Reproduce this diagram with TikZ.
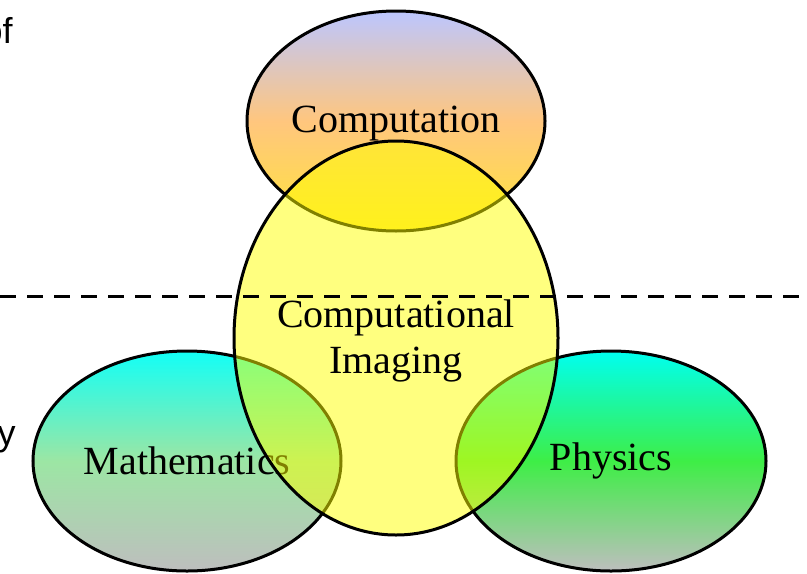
\documentclass[tikz,border=0pt]{standalone}
\usepackage{fontspec}
\setmainfont{Liberation Serif}
\newfontfamily\sidefont{Liberation Sans}
\usetikzlibrary{shapes.geometric}
\definecolor{compblue}{HTML}{BCC6FF}
\definecolor{comporange}{HTML}{FFC67E}
\definecolor{compyellow}{HTML}{FFE43A}
\definecolor{mathcyan}{HTML}{12FFF6}
\definecolor{mathgreen}{HTML}{9CE6A4}
\definecolor{physcyan}{HTML}{00FFF0}
\definecolor{physgreen}{HTML}{3EEE46}
\definecolor{venngrey}{HTML}{BEBEBE}
\definecolor{imgyellow}{HTML}{FFFF00}
\tikzset{
  venn/.style={ellipse, draw=black, line width=1.5pt, inner sep=0pt, align=center, font=\fontsize{20}{23}\selectfont},
  lbl/.style={align=center, inner sep=0pt, font=\fontsize{20}{23}\selectfont},
  side/.style={font=\sidefont\fontsize{18}{20}\selectfont, inner sep=0pt},
  cut/.style={line width=1.5pt, dash pattern=on 8pt off 5.5pt},
}
\begin{document}
\begin{tikzpicture}[x=0.5pt,y=-0.5pt]
  \useasboundingbox (0,0) rectangle (807,573);
  \node[side, anchor=base east] (sideof) at (13,43) {of};
  \node[side, anchor=base east] (sidey) at (16,445) {y};
  \node[venn, minimum width=149pt, minimum height=110pt, top color=compblue, bottom color=compyellow, middle color=comporange] (comp) at (396,121) {};
  \node[lbl] (complbl) at ([yshift=-1.5pt]comp.center) {Computation};
  \node[venn, minimum width=154pt, minimum height=110pt, top color=mathcyan, bottom color=venngrey, middle color=mathgreen] (math) at (187,461) {Mathematics};
  \node[venn, minimum width=155pt, minimum height=110pt, top color=physcyan, bottom color=venngrey, middle color=physgreen] (phys) at (611,461) {Physics};
  \node[venn, minimum width=162pt, minimum height=197pt, fill=imgyellow, fill opacity=0.5] (imaging) at (396,338) {};
  \node[lbl] (imaginglbl) at (396,341) {Computational\\Imaging};
  % split line
  \coordinate (cutl) at (0,296);
  \coordinate (cutr) at (807,296);
  \draw[cut] (cutl) -- (cutr);
\end{tikzpicture}
\end{document}
